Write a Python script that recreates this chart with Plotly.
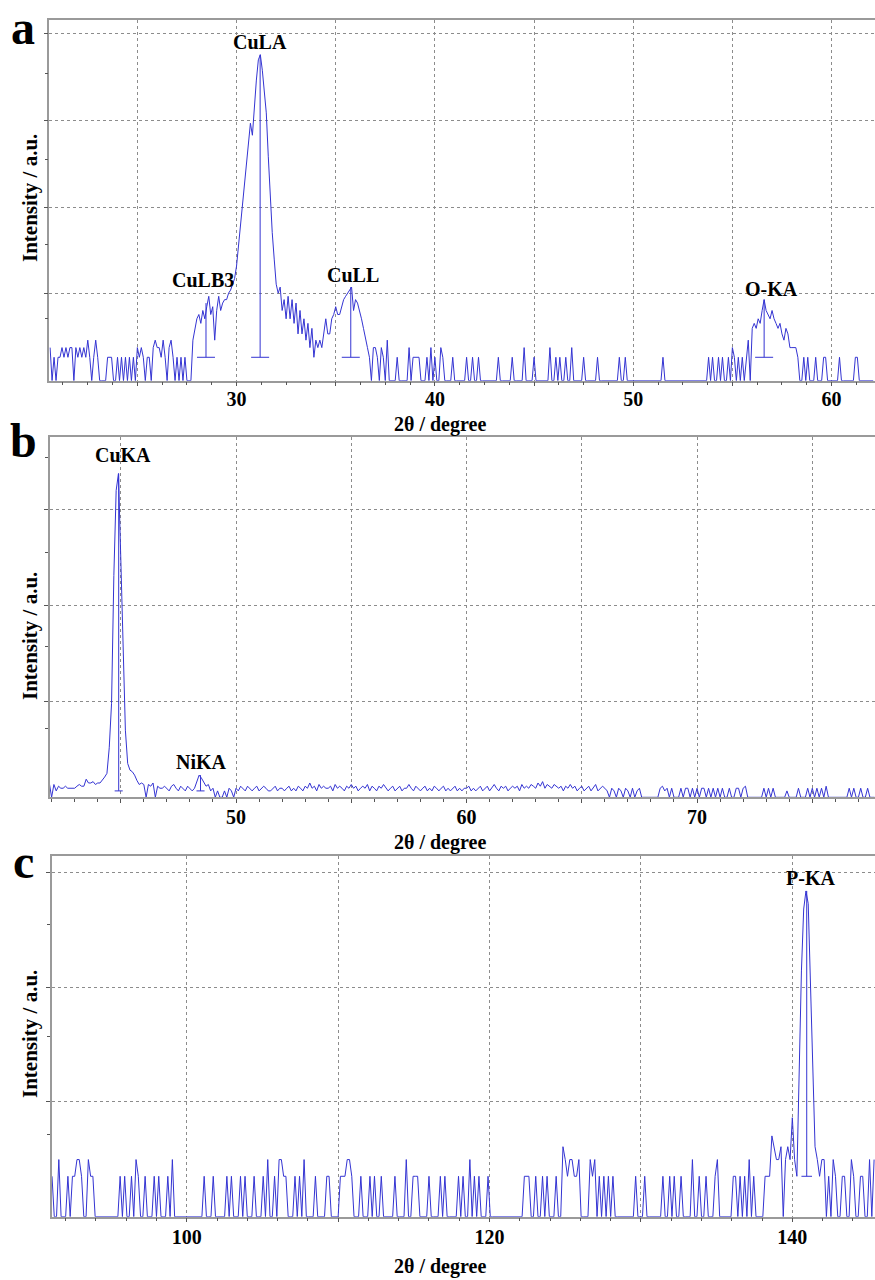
import numpy as np
import plotly.graph_objects as go

# ---------------------------------------------------------------------------
# WDS spectra: raw counts per 2θ step; the intensity axis is square-root scaled
# ---------------------------------------------------------------------------

# (a) 20.6° – 62.1°, step 0.1°
A_START, A_STEP = 20.6, 0.1
A_COUNTS = (
    [2, 0, 1, 0]
    + [1, 1, 2, 1, 2, 1, 2, 2, 0, 2]          # 21
    + [1, 2, 1, 2, 1, 3, 1, 0, 1, 3]          # 22
    + [1, 0, 0, 0, 0, 1, 1, 1, 0, 0]          # 23
    + [1, 0, 1, 0, 1, 0, 1, 0, 1, 0]          # 24
    + [2, 1, 2, 1, 0, 1, 1, 0, 2, 3]          # 25
    + [2, 2, 1, 3, 1, 0, 2, 3, 1, 0]          # 26
    + [1, 0, 1, 0, 1, 0, 0, 0, 3, 5]          # 27
    + [7, 8, 6, 9, 7, 10, 13, 8, 10, 3]       # 28
    + [9, 13, 9, 11, 12, 12, 14, 15, 17, 19]  # 29
    + [24, 33, 44, 57, 72, 88, 106, 121, 110, 140]   # 30
    + [165, 188, 194, 176, 152, 131, 92, 60, 40, 27]  # 31
    + [17, 14, 16, 9, 12, 7, 13, 7, 12, 6]    # 32
    + [11, 4, 9, 4, 7, 3, 6, 2, 5, 1]         # 33
    + [3, 2, 3, 2, 4, 7, 4, 4, 7, 8]          # 34
    + [10, 8, 8, 10, 12, 13, 14, 15, 16, 9]   # 35
    + [12, 11, 9, 7, 5, 3, 2, 1, 0, 2]        # 36
    + [2, 1, 0, 2, 1, 0, 3, 0, 0, 0]          # 37
    + [0, 1, 0, 0, 0, 0, 0, 2, 0, 1]          # 38
    + [1, 1, 1, 0, 0, 0, 1, 0, 2, 0]          # 39
    + [1, 0, 0, 2, 1, 0, 0, 0, 0, 1]          # 40
    + [0, 0, 0, 0, 0, 0, 1, 0, 0, 1]          # 41
    + [0, 0, 1, 0, 0, 0, 0, 0, 0, 0]          # 42
    + [0, 0, 1, 0, 0, 0, 0, 0, 0, 1]          # 43
    + [0, 0, 0, 0, 0, 2, 0, 0, 0, 0]          # 44
    + [1, 0, 0, 0, 0, 0, 0, 0, 2, 0]          # 45
    + [0, 1, 0, 1, 0, 0, 1, 0, 0, 2]          # 46
    + [0, 0, 0, 0, 0, 1, 0, 0, 0, 0]          # 47
    + [0, 0, 1, 0, 0, 0, 0, 0, 0, 0]          # 48
    + [0, 0, 0, 1, 0, 0, 1, 0, 0, 0]          # 49
    + [0, 0, 0, 0, 0, 0, 0, 0, 0, 0]          # 50
    + [0, 0, 0, 0, 0, 1, 0, 0, 0, 0]          # 51
    + [0, 0, 0, 0, 0, 0, 0, 0, 0, 0]          # 52
    + [0, 0, 0, 0, 0, 0, 0, 0, 1, 0]          # 53
    + [1, 0, 0, 1, 0, 1, 0, 0, 1, 0]          # 54
    + [2, 1, 0, 1, 0, 1, 0, 1, 3, 0]          # 55
    + [5, 6, 5, 7, 6, 9, 12, 9, 8, 7]         # 56
    + [9, 7, 6, 5, 6, 4, 3, 5, 4, 2]          # 57
    + [2, 2, 2, 1, 0, 0, 1, 0, 1, 0]          # 58
    + [0, 0, 1, 0, 0, 0, 1, 1, 0, 0]          # 59
    + [0, 0, 0, 0, 1, 0, 0, 0, 0, 0]          # 60
    + [0, 0, 1, 1, 0, 0, 0, 0, 0, 0]          # 61
    + [0, 0]                                  # 62
)

# (b) 41.9° – 77.7°, step 0.1°
B_START, B_STEP = 41.9, 0.1
B_COUNTS = (
    [5]
    + [0, 4, 1, 3, 2, 2, 3, 2, 2, 2]                   # 42
    + [2, 3, 4, 3, 3, 8, 5, 5, 6, 4]                   # 43
    + [5, 5, 7, 10, 14, 60, 216, 1200, 2300, 2560]     # 44
    + [1400, 500, 110, 28, 18, 16, 12, 7, 4, 5]        # 45
    + [4, 0, 4, 3, 5, 0, 3, 2, 2, 3]                   # 46
    + [2, 1, 3, 4, 2, 1, 3, 2, 1, 3]                   # 47
    + [2, 1, 2, 6, 12, 9, 6, 3, 4, 1]                  # 48
    + [2, 0, 1, 0, 0, 1, 0, 2, 1, 0]                   # 49
    + [2, 1, 3, 2, 1, 3, 2, 1, 2, 3]                   # 50
    + [1, 2, 3, 2, 1, 1, 2, 3, 1, 2]                   # 51
    + [2, 1, 2, 3, 1, 2, 1, 3, 2, 1]                   # 52
    + [3, 2, 5, 2, 3, 1, 4, 2, 3, 2]                   # 53
    + [2, 3, 1, 4, 2, 3, 2, 1, 3, 2]                   # 54
    + [4, 2, 3, 1, 2, 3, 2, 4, 1, 3]                   # 55
    + [2, 1, 3, 2, 4, 2, 1, 2, 3, 1]                   # 56
    + [2, 3, 1, 2, 2, 4, 2, 1, 3, 2]                   # 57
    + [1, 2, 3, 1, 2, 1, 3, 2, 1, 2]                   # 58
    + [3, 1, 2, 1, 2, 3, 1, 2, 1, 2]                   # 59
    + [2, 3, 1, 2, 1, 2, 3, 1, 2, 3]                   # 60
    + [1, 2, 4, 2, 1, 3, 2, 3, 1, 2]                   # 61
    + [3, 2, 3, 1, 4, 2, 3, 2, 4, 3]                   # 62
    + [2, 5, 3, 6, 2, 4, 3, 2, 4, 3]                   # 63
    + [2, 3, 1, 3, 2, 4, 2, 3, 1, 2]                   # 64
    + [3, 1, 2, 3, 1, 2, 4, 1, 2, 3]                   # 65
    + [2, 1, 0, 2, 1, 0, 2, 1, 0, 2]                   # 66
    + [1, 0, 2, 0, 1, 2, 0, 0, 0, 0]                   # 67
    + [0, 0, 0, 0, 2, 3, 1, 2, 0, 2]                   # 68
    + [0, 0, 0, 2, 0, 2, 2, 0, 2, 0]                   # 69
    + [2, 0, 2, 2, 0, 2, 0, 2, 0, 2]                   # 70
    + [0, 2, 0, 0, 2, 0, 0, 2, 2, 0]                   # 71
    + [2, 3, 0, 0, 0, 0, 0, 0, 0, 2]                   # 72
    + [0, 2, 0, 2, 0, 0, 0, 0, 0, 1]                   # 73
    + [0, 0, 0, 0, 2, 0, 0, 0, 2, 0]                   # 74
    + [2, 0, 2, 0, 2, 0, 3, 0, 0, 0]                   # 75
    + [0, 0, 0, 0, 0, 0, 2, 0, 2, 0]                   # 76
    + [0, 2, 0, 0, 2, 0, 0, 0]                         # 77
)

# (c) 91.1° – 145.4°, step 0.15°
C_START, C_STEP = 91.1, 0.15
C_COUNTS = (
    [1, 0, 0, 2, 0, 0, 0, 1, 0, 1]            # 91.1
    + [1, 2, 2, 1, 0, 0, 2, 1, 1, 0]          # 92.6
    + [0, 0, 0, 0, 0, 0, 0, 0, 0, 0]          # 94.1
    + [1, 0, 1, 0, 0, 1, 0, 2, 1, 0]          # 95.6
    + [0, 1, 0, 0, 0, 1, 0, 1, 0, 0]          # 97.1
    + [0, 1, 0, 2, 0, 0, 0, 0, 0, 0]          # 98.6
    + [0, 0, 0, 0, 0, 0, 0, 1, 0, 0]          # 100.1
    + [0, 1, 0, 0, 0, 0, 0, 1, 0, 1]          # 101.6
    + [0, 0, 0, 1, 0, 1, 0, 0, 0, 1]          # 103.1
    + [0, 0, 0, 1, 0, 2, 0, 0, 1, 0]          # 104.6
    + [2, 2, 1, 1, 0, 0, 0, 1, 0, 1]          # 106.1
    + [0, 2, 0, 0, 0, 0, 1, 0, 0, 0]          # 107.6
    + [0, 1, 1, 0, 0, 0, 0, 1, 1, 1]          # 109.1
    + [2, 2, 1, 0, 0, 0, 1, 0, 0, 0]          # 110.6
    + [1, 0, 1, 0, 0, 1, 0, 0, 0, 0]          # 112.1
    + [0, 1, 0, 0, 0, 0, 2, 0, 0, 1]          # 113.6
    + [1, 1, 0, 0, 0, 0, 1, 0, 0, 0]          # 115.1
    + [0, 1, 0, 1, 0, 0, 0, 0, 0, 1]          # 116.6
    + [0, 1, 0, 0, 2, 0, 1, 0, 1, 0]          # 118.1
    + [0, 0, 1, 0, 0, 0, 0, 0, 0, 0]          # 119.6
    + [0, 0, 0, 0, 0, 0, 0, 0, 1, 1]          # 121.1
    + [1, 0, 0, 1, 0, 0, 1, 0, 1, 0]          # 122.6
    + [0, 0, 1, 0, 0, 3, 2, 1, 2, 2]          # 124.1
    + [1, 1, 2, 0, 0, 0, 0, 2, 1, 2]          # 125.6
    + [0, 1, 0, 1, 0, 1, 0, 1, 0, 0]          # 127.1
    + [0, 0, 0, 0, 0, 0, 0, 1, 0, 0]          # 128.6
    + [0, 1, 0, 0, 0, 0, 0, 0, 0, 1]          # 130.1
    + [0, 0, 1, 0, 1, 0, 0, 1, 0, 0]          # 131.6
    + [0, 0, 2, 0, 0, 1, 0, 0, 1, 0]          # 133.1
    + [0, 0, 1, 2, 0, 0, 0, 0, 0, 0]          # 134.6
    + [1, 1, 0, 1, 0, 1, 0, 2, 0, 1]          # 136.1
    + [0, 0, 0, 0, 1, 1, 1, 4, 3, 2]          # 137.6
    + [2, 3, 0, 2, 3, 2, 6, 2, 1, 14]         # 139.1
    + [37, 58, 65, 60, 34, 14, 3, 2, 1, 2]    # 140.6
    + [2, 0, 1, 0, 2, 1, 0, 0, 1, 1]          # 142.1
    + [0, 0, 2, 1, 0, 0, 1, 1, 0, 0]          # 143.6
    + [2, 0, 2]                               # 145.1
)

# Identified lines: name, 2θ position, line-top counts
A_LINES = ["CuLB3", "CuLA", "CuLL", "O-KA"]
A_LINE_POS = [28.46, 31.19, 35.76, 56.6]
A_LINE_TOP = [11, 194, 16, 12]

B_LINES = ["CuKA", "NiKA"]
B_LINE_POS = [44.91, 48.46]
B_LINE_TOP = [2560, 12]

C_LINES = ["P-KA"]
C_LINE_POS = [140.95]
C_LINE_TOP = [65]

LINE_BASE_COUNT = 1   # line markers start at the one-count level

# Tick labels on the 2θ axes
A_TICKS = [25, 30, 35, 40, 45, 50, 55, 60]
A_LABELS = ["", "30", "", "40", "", "50", "", "60"]
B_TICKS = [45, 50, 55, 60, 65, 70, 75]
B_LABELS = ["", "50", "", "60", "", "70", ""]
C_TICKS = [100, 110, 120, 130, 140]
C_LABELS = ["100", "", "120", "", "140"]

# ---------------------------------------------------------------------------
# Styling
# ---------------------------------------------------------------------------
SERIF = "Liberation Serif"
BLUE = "rgb(52,52,210)"
FRAME = "#9a9a9a"
GRID = "#8c8c8c"

# label offsets (pixels) relative to the top of each line marker
LABEL_SHIFT = {
    "CuLB3": (-3, 23), "CuLA": (0, 13), "CuLL": (2, 12), "O-KA": (7, 11),
    "CuKA": (4, 19), "NiKA": (1, 13), "P-KA": (4, 13),
}

panels = [
    dict(key="a", start=A_START, step=A_STEP, counts=A_COUNTS,
         lines=A_LINES, pos=A_LINE_POS, top=A_LINE_TOP,
         ticks=A_TICKS, labels=A_LABELS, minor_dtick=1.25, minor_tick0=20,
         xrange=[20.56, 62.19], grid=3.705, ymax_grid=4.16, cap=0.454,
         xdom=[0.05634, 1.0], ydom=[0.70258, 0.98438], standoff=-4,
         letter_y=27, ytitle_y=198, xtitle_y=424),
    dict(key="b", start=B_START, step=B_STEP, counts=B_COUNTS,
         lines=B_LINES, pos=B_LINE_POS, top=B_LINE_TOP,
         ticks=B_TICKS, labels=B_LABELS, minor_dtick=1, minor_tick0=0,
         xrange=[41.93, 77.72], grid=15.0, ymax_grid=3.757, cap=0.175,
         xdom=[0.05714, 1.0], ydom=[0.37711, 0.65883], standoff=-3,
         letter_y=440, ytitle_y=636, xtitle_y=842),
    dict(key="c", start=C_START, step=C_STEP, counts=C_COUNTS,
         lines=C_LINES, pos=C_LINE_POS, top=C_LINE_TOP,
         ticks=C_TICKS, labels=C_LABELS, minor_dtick=2, minor_tick0=0,
         xrange=[91.08, 145.46], grid=2.839, ymax_grid=3.147, cap=0.35,
         xdom=[0.05909, 1.0], ydom=[0.04945, 0.33148], standoff=-2,
         letter_y=861, ytitle_y=1034, xtitle_y=1266),
]

MINOR_Y = [0.72, 1.57, 2.55, 3.54]   # minor intensity ticks, in grid units

W, H = 875, 1280
fig = go.Figure()
annotations = []


def py(px):
    """pixel row -> paper y"""
    return 1 - px / H


for i, p in enumerate(panels, start=1):
    xa = "x" if i == 1 else f"x{i}"
    ya = "y" if i == 1 else f"y{i}"
    counts = np.asarray(p["counts"], dtype=float)
    x = np.round(p["start"] + p["step"] * np.arange(len(counts)), 3)
    y = np.sqrt(counts)

    fig.add_trace(go.Scatter(x=x, y=y, mode="lines", xaxis=xa, yaxis=ya,
                             line=dict(color=BLUE, width=1), hoverinfo="skip",
                             showlegend=False))

    # line markers: vertical stick with a short cap at the base
    base = np.sqrt(LINE_BASE_COUNT)
    mx, my = [], []
    for pos, top in zip(p["pos"], p["top"]):
        t = np.sqrt(top)
        mx += [pos, pos, None, pos - p["cap"], pos + p["cap"], None]
        my += [t, base, None, base, base, None]
    fig.add_trace(go.Scatter(x=mx, y=my, mode="lines", xaxis=xa, yaxis=ya,
                             line=dict(color=BLUE, width=1), hoverinfo="skip",
                             showlegend=False))

    for name, pos, top in zip(p["lines"], p["pos"], p["top"]):
        dx, dy = LABEL_SHIFT[name]
        annotations.append(dict(
            x=pos, y=np.sqrt(top), xref=xa, yref=ya, text=name,
            showarrow=False, xshift=dx, yshift=dy, yanchor="middle",
            font=dict(family=SERIF, size=20, color="black", weight="bold")))

    g = p["grid"]
    ymax = g * p["ymax_grid"]
    ygrid = [g * k for k in range(1, int(p["ymax_grid"]) + 1)]
    yminor = [g * v for v in MINOR_Y if v < p["ymax_grid"]]

    axis_x = dict(
        domain=p["xdom"], range=p["xrange"], anchor=ya,
        tickmode="array", tickvals=p["ticks"], ticktext=p["labels"],
        ticks="outside", ticklen=4, tickcolor="#555555", tickwidth=1,
        ticklabelstandoff=p["standoff"],
        tickfont=dict(family=SERIF, size=20, color="black", weight="bold"),
        showgrid=True, gridcolor=GRID, griddash="dot", gridwidth=1,
        showline=True, linecolor=FRAME, linewidth=1.5, mirror=True,
        zeroline=False,
        minor=dict(ticks="outside", ticklen=3, tickcolor="#555555",
                   dtick=p["minor_dtick"], tick0=p["minor_tick0"],
                   showgrid=False),
    )
    axis_y = dict(
        domain=p["ydom"], range=[0, ymax], anchor=xa,
        tickmode="array", tickvals=ygrid, showticklabels=False,
        ticks="outside", ticklen=4, tickcolor="#555555", tickwidth=1,
        showgrid=True, gridcolor=GRID, griddash="dot", gridwidth=1,
        showline=True, linecolor=FRAME, linewidth=1.5, mirror=False,
        zeroline=False,
        minor=dict(ticks="outside", ticklen=3, tickcolor="#555555",
                   tickmode="array", tickvals=yminor, showgrid=False),
    )
    fig.update_layout(**{("xaxis" if i == 1 else f"xaxis{i}"): axis_x,
                         ("yaxis" if i == 1 else f"yaxis{i}"): axis_y})

    # panel letter and axis titles
    annotations.append(dict(
        x=23 / W, y=py(p["letter_y"]), xref="paper", yref="paper",
        text=p["key"], showarrow=False, xanchor="center", yanchor="middle",
        font=dict(family=SERIF, size=48, color="black", weight="bold")))
    annotations.append(dict(
        x=30 / W, y=py(p["ytitle_y"]), xref="paper", yref="paper",
        text="Intensity / a.u.", textangle=-90, showarrow=False,
        xanchor="center", yanchor="middle",
        font=dict(family=SERIF, size=21, color="black", weight="bold")))
    annotations.append(dict(
        x=440 / W, y=py(p["xtitle_y"]), xref="paper", yref="paper",
        text="2θ / degree", showarrow=False, xanchor="center", yanchor="middle",
        font=dict(family=SERIF, size=20, color="black", weight="bold")))

fig.update_layout(
    width=W, height=H, margin=dict(l=0, r=0, t=0, b=0),
    paper_bgcolor="white", plot_bgcolor="white",
    annotations=annotations, showlegend=False,
)

fig.write_html("out.html")
